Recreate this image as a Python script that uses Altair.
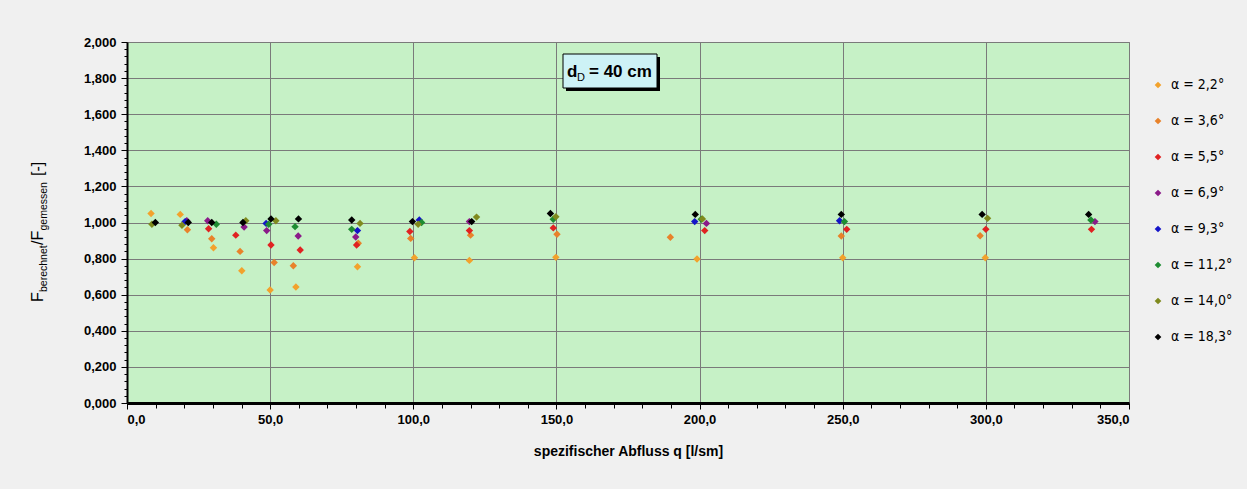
import altair as alt
import pandas as pd

# ---------------- data ----------------
series = ["α = 2,2°", "α = 3,6°", "α = 5,5°", "α = 6,9°",
          "α = 9,3°", "α = 11,2°", "α = 14,0°", "α = 18,3°"]
colors = ["#F2A22C", "#E8822A", "#E02222", "#8B1A89",
          "#1414C8", "#1E8C32", "#7F8A1E", "#000000"]

q_22 = [8.4, 18.6, 30.2, 40.1, 50.0, 59.0, 80.5, 100.4, 119.6, 149.8, 199.1, 250.0, 299.8]
f_22 = [1.050, 1.045, 0.860, 0.733, 0.626, 0.643, 0.755, 0.805, 0.790, 0.807, 0.798, 0.805, 0.805]

q_36 = [21.1, 29.6, 39.5, 51.4, 58.1, 80.8, 99.1, 120.0, 150.2, 189.8, 249.5, 298.0]
f_36 = [0.960, 0.910, 0.840, 0.778, 0.760, 0.885, 0.912, 0.930, 0.935, 0.918, 0.925, 0.927]

q_55 = [28.5, 38.0, 50.3, 60.5, 80.2, 98.8, 119.6, 148.9, 201.8, 251.4, 300.0, 336.9]
f_55 = [0.965, 0.930, 0.875, 0.848, 0.875, 0.950, 0.955, 0.970, 0.955, 0.962, 0.962, 0.962]

q_69 = [20.9, 28.2, 40.9, 48.8, 59.8, 79.9, 119.6, 202.4, 338.1]
f_69 = [1.010, 1.010, 0.975, 0.955, 0.925, 0.920, 1.005, 0.995, 1.005]

q_93 = [20.3, 48.6, 80.5, 102.1, 198.3, 248.9]
f_93 = [1.005, 0.995, 0.955, 1.014, 1.005, 1.010]

q_112 = [31.2, 49.5, 58.7, 78.5, 102.9, 148.9, 200.6, 250.6, 336.7]
f_112 = [0.990, 0.990, 0.977, 0.962, 1.000, 1.018, 1.018, 1.005, 1.014]

q_140 = [8.7, 19.2, 41.5, 52.0, 81.4, 101.7, 122.1, 149.8, 201.0, 300.6]
f_140 = [0.990, 0.985, 1.010, 1.010, 0.995, 0.990, 1.030, 1.032, 1.020, 1.023]

q_183 = [9.9, 21.4, 29.6, 40.5, 50.3, 59.9, 78.5, 99.7, 120.4, 147.9, 198.5, 249.5, 298.7, 335.9]
f_183 = [1.000, 1.000, 1.000, 1.000, 1.020, 1.020, 1.014, 1.005, 1.005, 1.050, 1.045, 1.045, 1.045, 1.045]

x_ticks = list(range(0, 351, 10))
y_ticks = [round(i * 0.04, 2) for i in range(51)]

x_title = "spezifischer Abfluss q [l/sm]"

# ---------------- build table ----------------
all_q = [q_22, q_36, q_55, q_69, q_93, q_112, q_140, q_183]
all_f = [f_22, f_36, f_55, f_69, f_93, f_112, f_140, f_183]
rows = []
for i, (name, qs, fs) in enumerate(zip(series, all_q, all_f)):
    for q, f in zip(qs, fs):
        rows.append({"serie": name, "q": q, "F": f, "ord": i})
df = pd.DataFrame(rows)

W, H = 1002, 361
LBL_FONT = "Liberation Sans, Arial, sans-serif"
NARROW = "Liberation Sans Narrow, Arial Narrow, DejaVu Sans Condensed, sans-serif"

x_major = "datum.value % 50 === 0"
y_major = "abs(datum.value * 5 - round(datum.value * 5)) < 0.000001"

x_axis = alt.Axis(
    values=x_ticks,
    labelExpr=f"{x_major} ? replace(format(datum.value, '.1f'), '.', ',') : ''",
    labelOverlap=False,
    labelFont=LBL_FONT, labelFontSize=13, labelFontWeight="bold", labelColor="#000000",
    labelPadding=4,
    grid=True, gridColor="#7a7a7a", gridWidth=1,
    gridOpacity={"condition": {"test": x_major, "value": 1}, "value": 0},
    tickColor="#000000", tickWidth=1,
    tickSize={"condition": {"test": x_major, "value": 6}, "value": 5},
    domainColor="#000000", domainWidth=3,
    title=x_title, titleFont=LBL_FONT, titleFontSize=14, titleFontWeight="bold",
    titleColor="#000000", titlePadding=18,
)
y_axis = alt.Axis(
    values=y_ticks,
    labelExpr=f"{y_major} ? replace(format(datum.value, '.3f'), '.', ',') : ''",
    labelOverlap=False,
    labelFont=LBL_FONT, labelFontSize=13, labelFontWeight="bold", labelColor="#000000",
    labelPadding=5,
    grid=True, gridColor="#7a7a7a", gridWidth=1,
    gridOpacity={"condition": {"test": y_major, "value": 1}, "value": 0},
    tickColor="#000000", tickWidth=1,
    tickSize={"condition": {"test": y_major, "value": 6}, "value": 3},
    domainColor="#000000", domainWidth=2,
    title=None,
)

points = alt.Chart(df).mark_point(shape="diamond", filled=True, size=55, opacity=1).encode(
    x=alt.X("q:Q", scale=alt.Scale(domain=[0, 350], nice=False, zero=True), axis=x_axis),
    y=alt.Y("F:Q", scale=alt.Scale(domain=[0, 2], nice=False), axis=y_axis),
    color=alt.Color(
        "serie:N",
        scale=alt.Scale(domain=series, range=colors),
        legend=alt.Legend(
            title=None, orient="none", legendX=1024, legendY=36,
            symbolType="diamond", symbolSize=45, symbolStrokeWidth=0,
            labelFont=NARROW, labelFontSize=14, labelColor="#000000",
            labelOffset=6, rowPadding=22,
        ),
    ),
    order=alt.Order("ord:Q"),
)

one = pd.DataFrame({"k": [0]})

def txt(s, x, y, size, weight="normal", angle=0, font=LBL_FONT):
    return alt.Chart(one).mark_text(
        align="left", baseline="alphabetic", fontSize=size, fontWeight=weight,
        font=font, angle=angle, color="#000000",
    ).encode(x=alt.value(x), y=alt.value(y), text=alt.value(s))

# annotation box "d_D = 40 cm"
shadow = alt.Chart(one).mark_rect(color="#000000").encode(
    x=alt.value(439), x2=alt.value(533), y=alt.value(15), y2=alt.value(49))
box = alt.Chart(one).mark_rect(fill="#CDF2F6", stroke="#000000", strokeWidth=1).encode(
    x=alt.value(436), x2=alt.value(530), y=alt.value(12), y2=alt.value(46))
t_d = txt("d", 440, 35, 17, "bold")
t_D = txt("D", 450, 39, 11)
t_eq = txt("= 40 cm", 462, 35, 17, "bold")

# y-axis title with subscripts (rotated)
yt_x, ys_x = -84, -80
y_parts = [
    txt("F", yt_x, 260, 16, angle=270),
    txt("berechnet", ys_x, 250, 10.5, angle=270),
    txt("/F", yt_x, 203, 16, angle=270),
    txt("gemessen", ys_x, 188.5, 10.5, angle=270),
    txt("[-]", yt_x, 134, 16, angle=270),
]

chart = alt.layer(points, shadow, box, t_d, t_D, t_eq, *y_parts).properties(
    width=W, height=H,
    autosize=alt.AutoSizeParams(type="none"),
    padding={"left": 127, "top": 42, "right": 118, "bottom": 86},
    background="#F0F0F0",
).configure_view(fill="#C6F1C6", stroke="#7a7a7a", strokeWidth=1)

chart.save("out.html", embed_options={"renderer": "svg", "actions": False})
